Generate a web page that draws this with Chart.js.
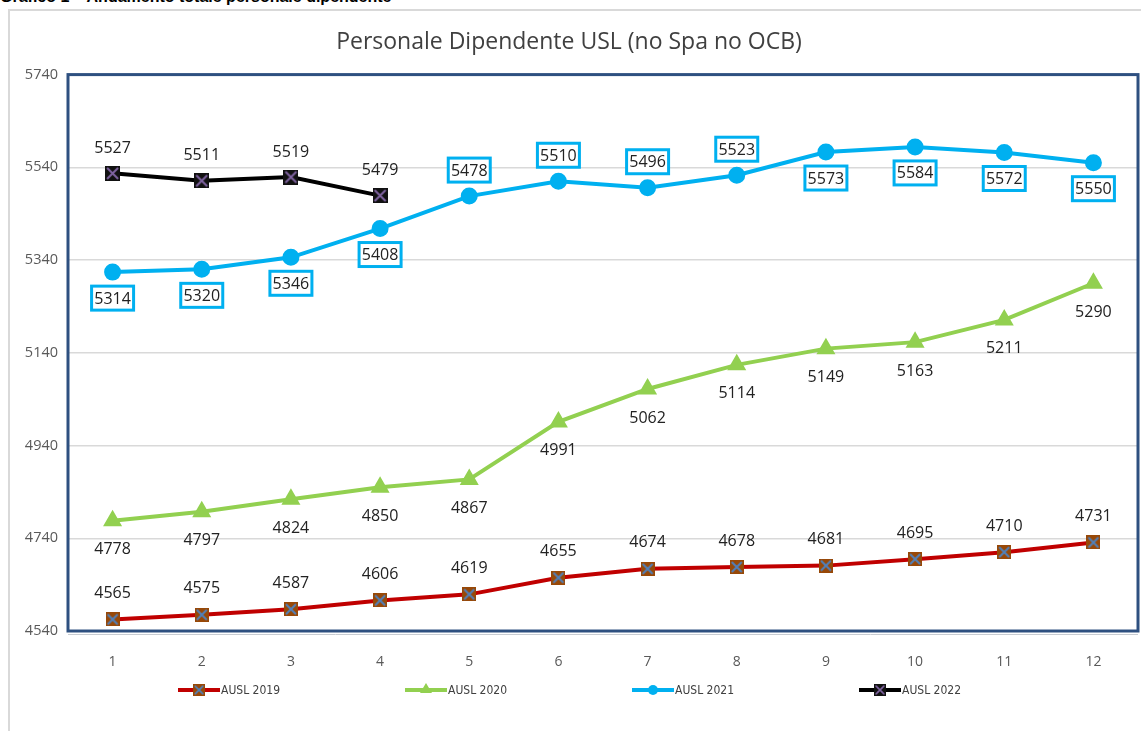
<!DOCTYPE html>
<html>
<head>
<meta charset="utf-8">
<script src="https://cdn.jsdelivr.net/npm/chart.js@4.4.1/dist/chart.umd.min.js"></script>
<style>
html, body { margin: 0; padding: 0; background: #fff; overflow: hidden; }
#wrap { position: relative; width: 1141px; height: 731px; overflow: hidden; }
#heading { position: absolute; left: 0; top: -12px; font: bold 16px "Liberation Sans", Arial, sans-serif; color: #000; white-space: nowrap; }
#frame { position: absolute; left: 8px; top: 9px; width: 1200px; height: 800px; border: 2px solid #d9d9d9; }
canvas { position: absolute; left: 0; top: 0; }
</style>
</head>
<body>
<div id="wrap">
  <div id="heading">Grafico 1 – Andamento totale personale dipendente</div>
  <div id="frame"></div>
  <canvas id="chart" width="1141" height="731"></canvas>
</div>
<script>
// Chart data
const months = ['1', '2', '3', '4', '5', '6', '7', '8', '9', '10', '11', '12'];
const ausl2019 = [4565, 4575, 4587, 4606, 4619, 4655, 4674, 4678, 4681, 4695, 4710, 4731];
const ausl2020 = [4778, 4797, 4824, 4850, 4867, 4991, 5062, 5114, 5149, 5163, 5211, 5290];
const ausl2021 = [5314, 5320, 5346, 5408, 5478, 5510, 5496, 5523, 5573, 5584, 5572, 5550];
const ausl2022 = [5527, 5511, 5519, 5479];
const yTicks = [4540, 4740, 4940, 5140, 5340, 5540, 5740];

// Square marker with a cross, as an image for pointStyle
function crossBox(size, fill, cross) {
    const c = document.createElement('canvas');
    c.width = size;
    c.height = size;
    const g = c.getContext('2d');
    g.fillStyle = fill;
    g.fillRect(0, 0, size, size);
    g.strokeStyle = cross;
    g.lineWidth = 2;
    g.beginPath();
    g.moveTo(2, 2); g.lineTo(size - 2, size - 2);
    g.moveTo(size - 2, 2); g.lineTo(2, size - 2);
    g.stroke();
    return c;
}

const below = 'below', above = 'above';

// Data labels drawn next to each point
const pointLabels = {
    id: 'pointLabels',
    afterDatasetsDraw(chart) {
        const ctx = chart.ctx;
        ctx.save();
        ctx.font = '16px "Open Sans"';
        ctx.textAlign = 'center';
        ctx.textBaseline = 'middle';
        chart.data.datasets.forEach((ds, i) => {
            const meta = chart.getDatasetMeta(i);
            meta.data.forEach((pt, j) => {
                const side = Array.isArray(ds.labelSide) ? ds.labelSide[j] : ds.labelSide;
                const y = pt.y + (side === above ? -ds.labelGap : ds.labelGap);
                if (ds.labelBox) {
                    ctx.fillStyle = '#fff';
                    ctx.fillRect(pt.x - 21, y - 12, 42, 24);
                    ctx.strokeStyle = '#00B0F0';
                    ctx.lineWidth = 3;
                    ctx.strokeRect(pt.x - 21, y - 12, 42, 24);
                }
                ctx.fillStyle = '#222';
                ctx.fillText(String(ds.data[j]), pt.x, y + 1);
            });
        });
        ctx.restore();
    }
};

// Plot area border
const plotBorder = {
    id: 'plotBorder',
    beforeDatasetsDraw(chart) {
        const a = chart.chartArea;
        const ctx = chart.ctx;
        ctx.save();
        ctx.strokeStyle = '#c8ccd2';
        ctx.lineWidth = 1;
        ctx.beginPath();
        ctx.moveTo(a.left, a.bottom + 3.5);
        ctx.lineTo(a.right, a.bottom + 3.5);
        ctx.stroke();
        ctx.strokeStyle = '#2E5080';
        ctx.lineWidth = 3;
        ctx.strokeRect(a.left, a.top, a.right - a.left, a.bottom - a.top);
        ctx.restore();
    }
};

// Legend: line with marker, evenly spaced
const lineLegend = {
    id: 'lineLegend',
    afterDraw(chart) {
        const ctx = chart.ctx;
        const startX = 178, step = 227, y = 690;
        ctx.save();
        chart.data.datasets.forEach((ds, i) => {
            const x0 = startX + i * step;
            ctx.strokeStyle = ds.borderColor;
            ctx.lineWidth = 4;
            ctx.beginPath();
            ctx.moveTo(x0, y);
            ctx.lineTo(x0 + 42, y);
            ctx.stroke();
            const cx = x0 + 21;
            ctx.fillStyle = ds.pointBackgroundColor || ds.borderColor;
            if (ds.pointStyle instanceof HTMLCanvasElement) {
                ctx.drawImage(ds.pointStyle, cx - 6, y - 6, 12, 12);
            } else if (ds.pointStyle === 'triangle') {
                ctx.beginPath();
                ctx.moveTo(cx, y - 7);
                ctx.lineTo(cx + 6, y + 3);
                ctx.lineTo(cx - 6, y + 3);
                ctx.closePath();
                ctx.fill();
            } else {
                ctx.beginPath();
                ctx.arc(cx, y, 5, 0, Math.PI * 2);
                ctx.fill();
            }
            ctx.fillStyle = '#404040';
            ctx.font = '12px "Liberation Sans Narrow", "DejaVu Sans Condensed", sans-serif';
            ctx.textAlign = 'left';
            ctx.textBaseline = 'middle';
            ctx.fillText(ds.label, x0 + 43, y + 1);
        });
        ctx.restore();
    }
};

const box2019 = crossBox(14, '#984807', '#4F81BD');
const box2022 = crossBox(15, '#111111', '#8064A2');

new Chart(document.getElementById('chart'), {
    type: 'line',
    data: {
        labels: months,
        datasets: [{
            label: 'AUSL 2019',
            data: ausl2019,
            borderColor: '#C00000',
            borderWidth: 4,
            pointStyle: box2019,
            pointRadius: 7,
            labelSide: above,
            labelGap: 27
        }, {
            label: 'AUSL 2020',
            data: ausl2020,
            borderColor: '#92D050',
            backgroundColor: '#92D050',
            pointBackgroundColor: '#92D050',
            pointBorderColor: '#92D050',
            borderWidth: 4,
            pointStyle: 'triangle',
            pointRadius: 7,
            labelSide: below,
            labelGap: 28
        }, {
            label: 'AUSL 2021',
            data: ausl2021,
            borderColor: '#00B0F0',
            backgroundColor: '#00B0F0',
            pointBackgroundColor: '#00B0F0',
            pointBorderColor: '#00B0F0',
            borderWidth: 4,
            pointStyle: 'circle',
            pointRadius: 6.5,
            labelSide: [below, below, below, below, above, above, above, above, below, below, below, below],
            labelGap: 26,
            labelBox: true
        }, {
            label: 'AUSL 2022',
            data: ausl2022,
            borderColor: '#000000',
            borderWidth: 4,
            pointStyle: box2022,
            pointRadius: 7,
            labelSide: above,
            labelGap: 26
        }]
    },
    options: {
        responsive: false,
        animation: false,
        layout: { autoPadding: false, padding: { left: 0, right: 3, top: 0, bottom: 0 } },
        plugins: {
            legend: { display: false },
            tooltip: { enabled: false },
            title: {
                display: true,
                text: 'Personale Dipendente USL (no Spa no OCB)',
                color: '#404040',
                font: { family: '"Open Sans"', size: 23, weight: 'normal' },
                padding: { top: 29, bottom: 18 }
            }
        },
        scales: {
            x: {
                offset: true,
                grid: { display: false },
                border: { display: false },
                ticks: { color: '#595959', font: { family: '"Open Sans"', size: 14 }, padding: 15 },
                afterFit(scale) {
                    scale.height = 100;
                    scale.paddingLeft = 0;
                    scale.paddingRight = 0;
                }
            },
            y: {
                min: yTicks[0],
                max: yTicks[yTicks.length - 1],
                afterBuildTicks(scale) { scale.ticks = yTicks.map(v => ({ value: v })); },
                grid: { color: '#d9d9d9', lineWidth: 1.5, drawTicks: false },
                border: { display: false },
                ticks: {
                    color: '#595959',
                    font: { family: '"Open Sans"', size: 14.5 },
                    padding: 10,
                    callback: v => String(v)
                },
                afterFit(scale) { scale.width = 68; }
            }
        }
    },
    plugins: [plotBorder, pointLabels, lineLegend]
});
</script>
</body>
</html>
